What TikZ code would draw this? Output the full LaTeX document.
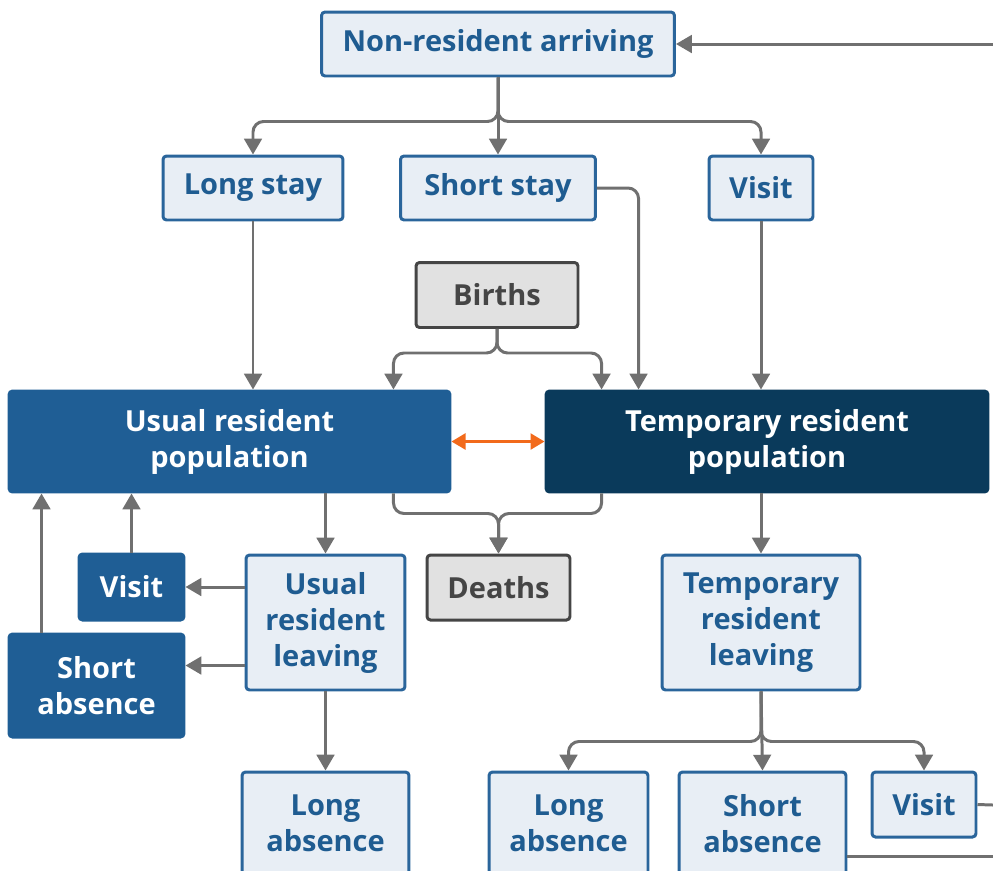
\documentclass[tikz,border=0pt]{standalone}
\usepackage{fontspec}
\setmainfont{Open Sans}
\usepackage{tikz}
\usetikzlibrary{positioning,arrows.meta}
\definecolor{paleBlue}{HTML}{E8EEF5}
\definecolor{lineBlue}{HTML}{2A659B}
\definecolor{textBlue}{HTML}{1F5C91}
\definecolor{midBlue}{HTML}{1F5E95}
\definecolor{navy}{HTML}{0A3A5B}
\definecolor{paleGrey}{HTML}{E1E1E1}
\definecolor{darkGrey}{HTML}{454545}
\definecolor{arrowGrey}{HTML}{707070}
\definecolor{orange}{HTML}{F26A1B}
\tikzset{
  base/.style={rectangle, rounded corners=2pt, line width=1.7pt, inner sep=0pt,
               align=center, font=\fontsize{16.5}{20.5}\selectfont\bfseries},
  flowbox/.style={base, draw=lineBlue, fill=paleBlue, text=textBlue},
  resbox/.style={base, draw=midBlue, fill=midBlue, text=white},
  tempbox/.style={base, draw=navy, fill=navy, text=white},
  vitalbox/.style={base, draw=darkGrey, fill=paleGrey, text=darkGrey},
  link/.style={line width=1.7pt, draw=arrowGrey, rounded corners=6pt},
  flow/.style={link, -{Triangle[length=9pt, width=10pt]}},
  twoway/.style={line width=1.7pt, draw=orange, {Triangle[length=8pt, width=9pt]}-{Triangle[length=8pt, width=9pt]}}
}
\begin{document}
\begin{tikzpicture}[x=0.02cm, y=-0.02cm]
\useasboundingbox (0,0) rectangle (993,870);
\clip (0,0) rectangle (993,870);
% arrivals
\node[flowbox, minimum width=7.06cm, minimum height=1.28cm] (nra) at (498,44) {Non-resident arriving};
\node[flowbox, minimum width=3.6cm, minimum height=1.28cm] (longstay) at (253,188) {Long stay};
\node[flowbox, minimum width=3.9cm, minimum height=1.28cm] (shortstay) at (498,188) {Short stay};
\node[flowbox, minimum width=2.08cm, minimum height=1.28cm] (visitin) at (761,188) {Visit};
\node[vitalbox, minimum width=3.24cm, minimum height=1.3cm] (births) at (497,295) {Births};
% populations
\node[resbox, minimum width=8.82cm, minimum height=2.02cm] (urp) at (229.5,441.5) {Usual resident\\population};
\node[tempbox, minimum width=8.84cm, minimum height=2.02cm] (trp) at (767,441.5) {Temporary resident\\population};
% departures
\node[resbox, minimum width=2.1cm, minimum height=1.32cm] (visitout) at (131.5,587) {Visit};
\node[resbox, minimum width=3.5cm, minimum height=2.06cm] (shortabs) at (96.5,685.5) {Short\\absence};
\node[flowbox, minimum width=3.18cm, minimum height=2.7cm] (url) at (325.5,622.5) {Usual\\resident\\leaving};
\node[vitalbox, minimum width=2.86cm, minimum height=1.3cm] (deaths) at (498.5,587.5) {Deaths};
\node[flowbox, minimum width=3.96cm, minimum height=2.7cm] (trl) at (761,622.5) {Temporary\\resident\\leaving};
\node[flowbox, minimum width=3.34cm, minimum height=2.06cm] (longabs) at (325.5,823.5) {Long\\absence};
\node[flowbox, minimum width=3.18cm, minimum height=2.06cm] (tlongabs) at (568.5,823.5) {Long\\absence};
\node[flowbox, minimum width=3.34cm, minimum height=2.06cm] (tshortabs) at (762.5,823.5) {Short\\absence};
\node[flowbox, minimum width=2.08cm, minimum height=1.3cm] (tvisit) at (924,804.5) {Visit};
% free ends at the edge
\coordinate (loopin) at (993,44);
\coordinate (loopvisit) at (993,805);
\coordinate (loopshort) at (993,855);

\draw[flow] (loopin) -- (nra.east);
\draw[flow] (nra.south) -- ++(0,44) -| (longstay.north);
\draw[flow] (nra.south) -- (shortstay.north);
\draw[flow] (nra.south) -- ++(0,44) -| (visitin.north);
\draw[flow] (longstay.south) -- (longstay.south |- urp.north);
\draw[flow] (visitin.south) -- (visitin.south |- trp.north);
\draw[flow] (shortstay.east) -| ([xshift=1.88cm]trp.north west);
\draw[flow] (births.south) -- ++(0,24) -| ([xshift=-1.16cm]urp.north east);
\draw[flow] (births.south) -- ++(0,24) -| ([xshift=1.14cm]trp.north west);
\draw[twoway] (urp.east) -- (trp.west);
\draw[flow] ([xshift=-1.16cm]urp.south east) -- ++(0,20) -| (deaths.north);
\draw[flow] ([xshift=1.14cm]trp.south west) -- ++(0,20) -| (deaths.north);
\draw[flow] (urp.south -| url.north) -- (url.north);
\draw[flow] (visitout.east -| url.west) -- (visitout.east);
\coordinate (sa) at ([yshift=0.4cm]shortabs.east);
\draw[flow] (sa -| url.west) -- (sa);
\draw[flow] (visitout.north) -- (visitout.north |- urp.south);
\coordinate (sb) at ([xshift=0.68cm]shortabs.north west);
\draw[flow] (sb) -- (sb |- urp.south);
\draw[flow] (url.south) -- (longabs.north);
\draw[flow] (trp.south -| trl.north) -- (trl.north);
\draw[flow] (trl.south) -- ++(0,50) -| (tlongabs.north);
\draw[flow] (trl.south) -- (tshortabs.north);
\draw[flow] (trl.south) -- ++(0,50) -| (tvisit.north);
\draw[link] (tvisit.east) -- (loopvisit);
\coordinate (sc) at ([yshift=0.4cm]tshortabs.south east);
\draw[link] (sc) -- (sc -| loopshort);
\end{tikzpicture}
\end{document}
